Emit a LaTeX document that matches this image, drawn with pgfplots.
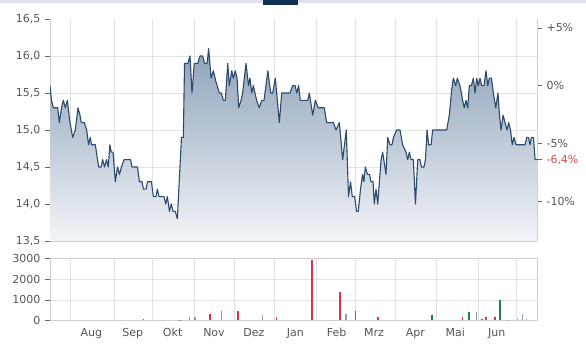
\documentclass[border=0pt]{standalone}
\usepackage{fontspec}
\setmainfont{DejaVu Sans}
\usepackage{pgfplots}
\usepackage{pgfplotstable}
\pgfplotsset{compat=1.18}
\definecolor{lbl}{HTML}{555555}
\definecolor{tickc}{HTML}{666666}
\definecolor{gridc}{HTML}{E2E2E2}
\definecolor{axc}{HTML}{CFCFCF}
\definecolor{linec}{HTML}{2C4A6C}
\definecolor{filltop}{HTML}{8EA2B9}
\definecolor{fillbot}{HTML}{F3F5F8}
\definecolor{volred}{HTML}{D8334F}
\definecolor{volgreen}{HTML}{1E8050}
\definecolor{volgray}{HTML}{8A9DB0}
\definecolor{pctred}{HTML}{E0474C}
\definecolor{topbar}{HTML}{DDE1E8}
\definecolor{navy}{HTML}{0F2F55}

\pgfplotstableread{
d p
0 15.6
1.1 15.4
2.5 15.3
5.8 15.3
7.0 15.1
8.6 15.3
10.0 15.4
11.5 15.3
13.0 15.4
15.0 15.1
17.0 14.9
19.0 15.0
21.0 15.3
22.5 15.2
23.5 15.1
25.7 15.1
27.5 15.0
28.9 14.8
30.2 14.9
31.1 14.8
34.0 14.8
36.5 14.5
38.3 14.5
39.5 14.6
40.9 14.5
42.4 14.6
43.7 14.5
44.9 14.8
46.0 14.7
47.3 14.7
49.0 14.3
50.6 14.5
52.1 14.4
53.6 14.5
55.5 14.6
60.4 14.6
61.5 14.5
65.6 14.5
67.1 14.3
69.0 14.3
70.1 14.2
72.0 14.2
73.1 14.3
76.1 14.3
77.5 14.1
79.5 14.1
80.5 14.2
81.8 14.1
85.5 14.1
86.8 14.0
88.0 14.1
89.6 13.9
90.9 14.0
92.3 13.9
94.0 13.9
95.5 13.8
98.6 14.9
100.0 14.9
100.9 15.9
103.3 15.9
105.0 16.0
106.5 15.5
108.2 15.9
110.8 15.9
112.5 16.0
114.5 16.0
116.0 15.9
117.8 15.9
119.0 16.1
120.8 15.7
122.5 15.8
124.5 15.65
127.0 15.5
128.5 15.5
130.0 15.4
131.5 15.4
133.3 15.9
134.5 15.6
136.3 15.8
137.5 15.7
139.0 15.8
140.3 15.7
141.5 15.3
143.3 15.4
144.5 15.5
147.0 15.9
148.9 15.6
150.0 15.7
151.3 15.5
152.5 15.6
155.0 15.4
157.0 15.3
158.8 15.4
160.5 15.4
163.4 15.8
165.5 15.5
167.0 15.5
169.0 15.7
172.0 15.1
173.8 15.5
180.0 15.5
182.0 15.6
183.8 15.6
185.1 15.5
186.5 15.6
187.7 15.4
193.3 15.4
194.5 15.5
197.0 15.2
199.0 15.4
201.2 15.3
205.7 15.3
207.5 15.1
212.5 15.1
214.5 15.0
217.0 15.1
219.5 14.6
222.2 15.0
223.9 14.1
225.4 14.3
226.7 14.1
228.5 14.1
229.9 13.9
231.2 13.9
232.9 14.2
234.4 14.4
235.4 14.3
236.5 14.5
238.1 14.4
239.6 14.4
240.8 14.3
242.3 14.3
243.2 14.0
244.5 14.2
245.8 14.0
248.3 14.6
249.5 14.7
252.0 14.4
253.3 14.9
255.0 14.8
256.5 14.8
257.6 14.9
260.0 15.0
262.5 15.0
264.5 14.8
267.0 14.7
268.3 14.6
269.5 14.7
270.8 14.6
272.5 14.6
274.1 14.0
275.8 14.6
277.5 14.6
278.6 14.5
280.5 14.5
281.6 14.6
282.8 15.0
284.0 14.8
285.8 14.8
287.0 15.0
297.5 15.0
299.5 15.2
301.3 15.55
302.5 15.7
304.3 15.6
305.5 15.7
307.5 15.6
309.5 15.4
310.7 15.3
312.0 15.4
313.3 15.3
314.5 15.6
316.1 15.6
317.5 15.7
318.8 15.5
320.0 15.7
321.2 15.6
322.5 15.7
323.8 15.6
325.5 15.6
327.0 15.8
328.3 15.6
329.5 15.7
331.1 15.7
332.5 15.5
334.3 15.3
336.0 15.5
337.1 15.2
338.3 15.0
339.8 15.2
341.3 15.1
342.8 15.0
344.0 15.1
345.4 15.0
346.7 14.8
348.0 14.9
349.5 14.8
356.3 14.8
357.5 14.9
358.9 14.9
360.0 14.8
361.1 14.9
362.6 14.9
363.8 14.6
365.2 14.6
}\price

\pgfplotstableread{
d v
70.0 50
120.0 300
140.8 450
170.0 150
196.7 2950
217.5 1400
229.0 470
246.0 150
309.5 150
324.2 50
327.0 150
333.8 150
}\volred

\pgfplotstableread{
d v
286.5 260
314.3 390
337.5 990
}\volgreen

\pgfplotstableread{
d v
97.5 40
98.8 40
104.5 150
108.8 150
128.8 470
159.5 260
222.0 300
319.7 390
343.7 20
350.5 50
354.5 300
357.5 50
}\volgray

\begin{document}
\begin{tikzpicture}[font=\fontsize{11bp}{13bp}\selectfont]
\useasboundingbox (0,0) rectangle (586bp,354bp);
\fill[topbar] (0,351bp) rectangle (586bp,354bp);
\fill[navy] (263bp,349bp) rectangle (298bp,354bp);

% price panel
\begin{axis}[
  at={(50bp,113bp)}, anchor=south west,
  width=487bp, height=222bp, scale only axis,
  xmin=0, xmax=365.25, ymin=13.5, ymax=16.5,
  axis x line*=bottom, axis y line*=left,
  axis line style={draw=axc, line width=0.8bp},
  xtick={15,48,77,108,138,168,200,229,259,290,321,350},
  xticklabels={}, xmajorgrids,
  x tick style={draw=none},
  ytick={13.5,14,14.5,15,15.5,16},
  yticklabels={{13,5},{14,0},{14,5},{15,0},{15,5},{16,0}},
  extra y ticks={16.5}, extra y tick labels={16{,}5},
  extra y tick style={grid=none},
  ymajorgrids,
  grid style={draw=gridc, line width=0.7bp},
  tick align=outside, major tick length=5bp,
  y tick style={draw=tickc, line width=0.7bp},
  tick label style={text=lbl},
  yticklabel style={xshift=-1bp},
  clip=true,
]
\addplot[draw=none, top color=filltop, bottom color=fillbot] table[x=d,y=p] {\price}
  -- (axis cs:365.2,13.5) -- (axis cs:0,13.5) -- cycle;
\addplot[linec, line width=1.1bp, line join=round] table[x=d,y=p] {\price};
\end{axis}

% percent axis
\begin{axis}[
  at={(50bp,113bp)}, anchor=south west,
  width=487bp, height=222bp, scale only axis,
  xmin=0, xmax=365.25, ymin=13.5, ymax=16.5,
  axis x line=none, axis y line*=right,
  axis line style={draw=axc, line width=0.8bp},
  ytick={16.38,15.6,14.82,14.04},
  yticklabels={+5\%,0\%,-5\%,-10\%},
  extra y ticks={14.6}, extra y tick labels={-6{,}4\%},
  extra y tick style={tick label style={text=pctred}, major tick style={draw=pctred}},
  tick align=outside, major tick length=5bp,
  y tick style={draw=tickc, line width=0.7bp},
  tick label style={text=lbl},
  yticklabel style={xshift=1bp},
]
\end{axis}

% volume panel
\begin{axis}[
  at={(50bp,33.5bp)}, anchor=south west,
  width=487bp, height=61.8bp, scale only axis,
  xmin=0, xmax=365.25, ymin=0, ymax=3000,
  axis line style={draw=axc, line width=0.8bp},
  xtick={31,62,92,123,153,184,215,243,274,304,335},
  xticklabels={Aug,Sep,Okt,Nov,Dez,Jan,Feb,Mrz,Apr,Mai,Jun},
  minor xtick={15,48,77,108,138,168,200,229,259,290,321,350},
  xminorgrids, ymajorgrids,
  grid style={draw=gridc, line width=0.7bp},
  minor grid style={draw=gridc, line width=0.7bp},
  x tick style={draw=none},
  ytick={0,1000,2000,3000},
  yticklabels={0,1000,2000,3000},
  ytick pos=left,
  tick align=outside, major tick length=5bp,
  y tick style={draw=tickc, line width=0.7bp},
  tick label style={text=lbl},
  yticklabel style={xshift=-1bp},
  xticklabel style={yshift=1bp},
]
\addplot[ycomb, volred, line width=1.6bp, mark=none] table[x=d,y=v] {\volred};
\addplot[ycomb, volgreen, line width=1.6bp, mark=none] table[x=d,y=v] {\volgreen};
\addplot[ycomb, volgray, line width=1.4bp, mark=none] table[x=d,y=v] {\volgray};
\end{axis}
\end{tikzpicture}
\end{document}
